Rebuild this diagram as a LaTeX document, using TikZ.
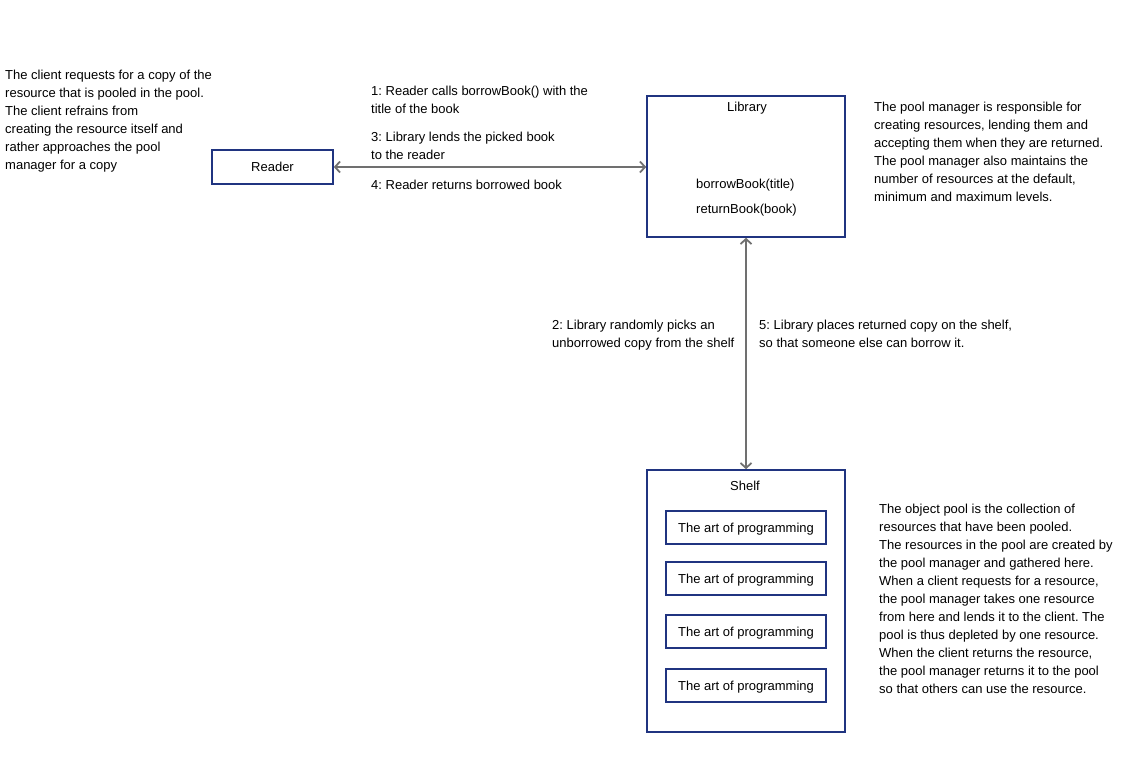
\documentclass[tikz,border=0pt]{standalone}
\usepackage{fontspec}
\setmainfont{Liberation Sans}
\usetikzlibrary{arrows.meta}
\definecolor{boxblue}{RGB}{32,52,128}
\definecolor{arrowgray}{RGB}{112,112,112}
\frenchspacing
\begin{document}
\begin{tikzpicture}[x=1pt,y=-1pt,
  box/.style={draw=boxblue,line width=1.6pt,inner sep=0pt,text depth=0pt,font=\fontsize{13}{18}\selectfont},
  txt/.style={inner sep=0pt,align=left,anchor=base west,font=\fontsize{13}{18}\selectfont},
  lbl/.style={inner sep=0pt,text depth=0pt,font=\fontsize{13}{18}\selectfont},
  conn/.style={draw=arrowgray,line width=1.8pt,{Straight Barb[length=5pt,width=11pt]}-{Straight Barb[length=5pt,width=11pt]}}]
\useasboundingbox (0,0) rectangle (1132,757);

% boxes
\node[box,minimum width=121pt,minimum height=34pt] (reader) at (272.5,167) {Reader};
\node[box,minimum width=198pt,minimum height=141pt] (library) at (746,166.5) {};
\node[lbl] (libtitle) at (747,106.5) {Library};
\node[lbl,anchor=west] (borrow) at (696,183.5) {borrowBook(title)};
\node[lbl,anchor=west] (return) at (696,208.5) {returnBook(book)};

\node[box,minimum width=198pt,minimum height=262pt] (shelf) at (746,601) {};
\node[lbl] (shelftitle) at (745,486) {Shelf};
\node[box,minimum width=160pt,minimum height=33pt] (book1) at (746,527.5) {The art of programming};
\node[box,minimum width=160pt,minimum height=33pt] (book2) at (746,578.5) {The art of programming};
\node[box,minimum width=160pt,minimum height=33pt] (book3) at (746,631.5) {The art of programming};
\node[box,minimum width=160pt,minimum height=33pt] (book4) at (746,685.5) {The art of programming};

% connectors
\draw[conn] (reader.east) -- (reader.east -| library.west);
\draw[conn] (library.south) -- (shelf.north);

% connector labels
\node[txt] (msg1) at (371,113.5) {1: Reader calls borrowBook() with the\\title of the book};
\node[txt] (msg3) at (371,159.5) {3: Library lends the picked book\\to the reader};
\node[txt] (msg4) at (371,189.5) {4: Reader returns borrowed book};
\node[txt] (msg2) at (552,347.5) {2: Library randomly picks an\\unborrowed copy from the shelf};
\node[txt] (msg5) at (759,347.5) {5: Library places returned copy on the shelf,\\so that someone else can borrow it.};

% notes
\node[txt] (clientnote) at (5,169.5) {The client requests for a copy of the\\resource that is pooled in the pool.\\The client refrains from\\creating the resource itself and\\rather approaches the pool\\manager for a copy};
\node[txt] (managernote) at (874,201.5) {The pool manager is responsible for\\creating resources, lending them and\\accepting them when they are returned.\\The pool manager also maintains the\\number of resources at the default,\\minimum and maximum levels.};
\node[txt] (poolnote) at (879,693.5) {The object pool is the collection of\\resources that have been pooled.\\The resources in the pool are created by\\the pool manager and gathered here.\\When a client requests for a resource,\\the pool manager takes one resource\\from here and lends it to the client. The\\pool is thus depleted by one resource.\\When the client returns the resource,\\the pool manager returns it to the pool\\so that others can use the resource.};
\end{tikzpicture}
\end{document}
